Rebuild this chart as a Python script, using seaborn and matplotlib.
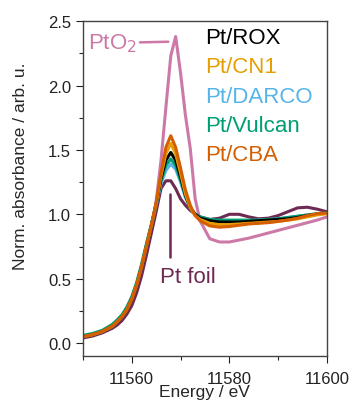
import numpy as np
import pandas as pd
import seaborn as sns
import matplotlib.pyplot as plt
from matplotlib.ticker import MultipleLocator

# energies (eV) where the spectra are read
energy = [11550, 11552, 11554, 11556, 11557, 11558, 11559, 11560, 11561, 11562,
          11563, 11564, 11565, 11566, 11567, 11568, 11569, 11570, 11571, 11572,
          11573, 11574, 11576, 11578, 11580, 11582, 11584, 11586, 11588, 11590,
          11592, 11594, 11596, 11598, 11600]

pto2 = [0.05, 0.065, 0.09, 0.13, 0.16, 0.20, 0.255, 0.33, 0.44, 0.57,
        0.72, 0.88, 1.10, 1.42, 1.83, 2.23, 2.38, 2.10, 1.77, 1.51,
        1.12, 0.95, 0.81, 0.785, 0.785, 0.80, 0.815, 0.835, 0.855, 0.875,
        0.895, 0.915, 0.935, 0.955, 0.98]
pt_foil = [0.04, 0.055, 0.08, 0.115, 0.14, 0.175, 0.225, 0.29, 0.39, 0.52,
           0.68, 0.85, 1.02, 1.20, 1.26, 1.26, 1.20, 1.12, 1.07, 1.03,
           1.00, 0.98, 0.96, 0.97, 1.00, 1.00, 0.98, 0.965, 0.97, 0.99,
           1.02, 1.05, 1.055, 1.04, 1.02]
pt_darco = [0.05, 0.065, 0.09, 0.13, 0.165, 0.205, 0.265, 0.345, 0.46, 0.60,
            0.76, 0.91, 1.07, 1.24, 1.34, 1.39, 1.35, 1.25, 1.13, 1.05,
            1.00, 0.975, 0.955, 0.95, 0.95, 0.95, 0.95, 0.955, 0.96, 0.965,
            0.975, 0.985, 0.995, 1.00, 1.01]
pt_vulcan = [0.06, 0.075, 0.10, 0.145, 0.18, 0.22, 0.28, 0.36, 0.47, 0.61,
             0.77, 0.92, 1.08, 1.26, 1.38, 1.43, 1.38, 1.27, 1.14, 1.05,
             1.00, 0.98, 0.96, 0.955, 0.955, 0.955, 0.955, 0.955, 0.96, 0.965,
             0.975, 0.985, 0.995, 1.005, 1.01]
pt_rox = [0.05, 0.065, 0.09, 0.13, 0.165, 0.205, 0.26, 0.34, 0.45, 0.59,
          0.75, 0.91, 1.08, 1.28, 1.42, 1.48, 1.42, 1.29, 1.15, 1.05,
          1.00, 0.97, 0.95, 0.94, 0.94, 0.94, 0.945, 0.95, 0.955, 0.96,
          0.965, 0.975, 0.99, 1.00, 1.01]
pt_cn1 = [0.05, 0.065, 0.09, 0.13, 0.165, 0.205, 0.26, 0.34, 0.45, 0.59,
          0.75, 0.91, 1.08, 1.30, 1.47, 1.55, 1.47, 1.32, 1.16, 1.05,
          0.99, 0.96, 0.93, 0.92, 0.92, 0.925, 0.93, 0.935, 0.94, 0.945,
          0.955, 0.965, 0.98, 0.995, 1.005]
pt_cba = [0.05, 0.065, 0.09, 0.13, 0.165, 0.205, 0.26, 0.34, 0.45, 0.59,
          0.75, 0.91, 1.09, 1.32, 1.52, 1.61, 1.52, 1.36, 1.19, 1.07,
          0.99, 0.95, 0.91, 0.90, 0.905, 0.915, 0.925, 0.93, 0.935, 0.945,
          0.955, 0.97, 0.99, 1.005, 1.01]

series = {"PtO2": pto2, "Pt foil": pt_foil, "Pt/DARCO": pt_darco,
          "Pt/Vulcan": pt_vulcan, "Pt/ROX": pt_rox, "Pt/CN1": pt_cn1,
          "Pt/CBA": pt_cba}
colors = {"PtO2": "#CC79A7", "Pt foil": "#6E2A52", "Pt/DARCO": "#56B4E9",
          "Pt/Vulcan": "#009E73", "Pt/ROX": "#000000", "Pt/CN1": "#E69F00",
          "Pt/CBA": "#D55E00"}
legend_order = ["Pt/ROX", "Pt/CN1", "Pt/DARCO", "Pt/Vulcan", "Pt/CBA"]

df = pd.concat([pd.DataFrame({"energy": energy, "mu": v, "sample": k})
                for k, v in series.items()], ignore_index=True)

sns.set_style("ticks")
plt.rcParams['font.family'] = ['Liberation Sans', 'DejaVu Sans']

fig = plt.figure(figsize=(3.53, 4.02), dpi=100)
ax = fig.add_axes([0.235, 0.112, 0.691, 0.833])

sns.lineplot(data=df, x="energy", y="mu", hue="sample", palette=colors,
             hue_order=list(series.keys()), linewidth=2.2, legend=False, ax=ax,
             sort=False)

ax.set_xlim(11550, 11600)
ax.set_ylim(-0.1, 2.5)
ax.xaxis.set_minor_locator(MultipleLocator(10))
ax.yaxis.set_major_locator(MultipleLocator(0.5))
ax.yaxis.set_minor_locator(MultipleLocator(0.25))
ax.set_xticks([11560, 11580, 11600])
ax.yaxis.set_major_formatter(plt.FormatStrFormatter('%.1f'))
ax.tick_params(which='major', direction='out', length=5, width=0.8,
               labelsize=12, colors='#222222')
ax.tick_params(axis='x', which='major', pad=5.5)
ax.tick_params(which='minor', direction='out', length=3, width=0.8)
for s in ax.spines.values():
    s.set_visible(True)
    s.set_linewidth(1.0)
    s.set_color('#444444')

ax.set_xlabel("Energy / eV", fontsize=12.5, labelpad=-1)
ax.set_ylabel("Norm. absorbance / arb. u.", fontsize=12.5)
ax.yaxis.set_label_coords(-0.225, 0.57)

# coloured legend text
for i, name in enumerate(legend_order):
    ax.text(0.50, 0.95 - i * 0.087, name, transform=ax.transAxes,
            color=colors[name], fontsize=16, va='center', ha='left')

# annotations
ax.annotate("PtO$_2$", xy=(11567.5, 2.34), xytext=(11551, 2.33),
            color=colors["PtO2"], fontsize=16, va='center', ha='left',
            arrowprops=dict(arrowstyle='-', color=colors["PtO2"], lw=1.8,
                            shrinkA=0, shrinkB=0))
ax.text(11571.5, 0.52, "Pt foil", color=colors["Pt foil"], fontsize=16,
        va='center', ha='center')
ax.plot([11567.8, 11567.8], [0.67, 1.16], color=colors["Pt foil"], lw=1.8)

fig.savefig("out.png", dpi=100)
